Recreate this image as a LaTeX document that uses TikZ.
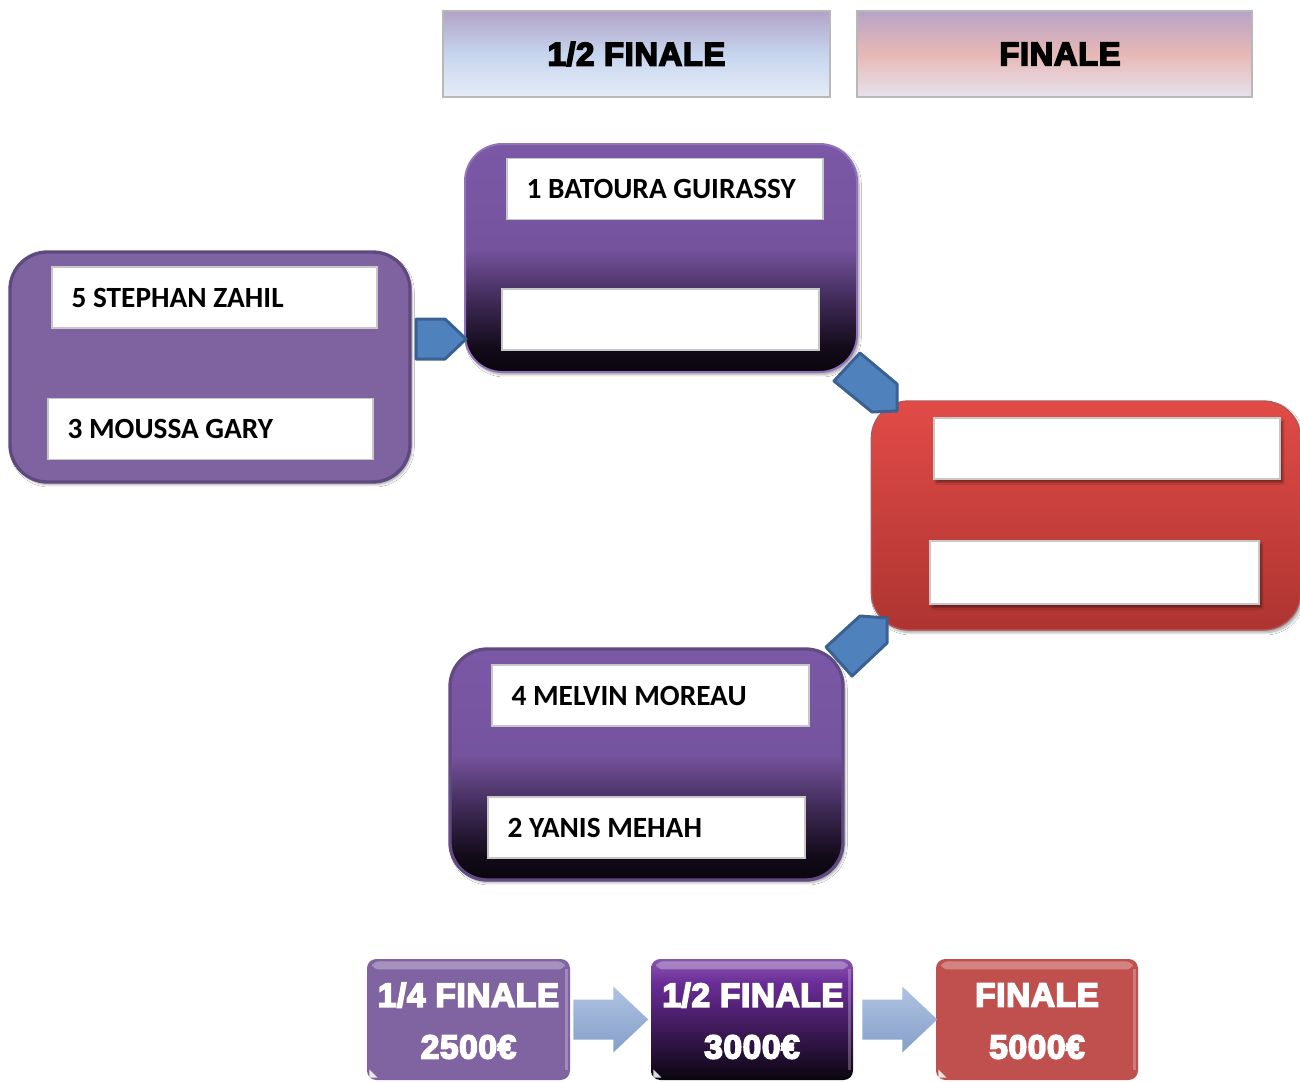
\documentclass[tikz,border=0pt]{standalone}
\usepackage{fontspec}
\newfontfamily\namefont{Carlito}
\newfontfamily\heavy[UprightFont={* Bold}, FakeBold=5, LetterSpace=2]{Liberation Sans}
\usetikzlibrary{shadows.blur,calc}
\definecolor{qpurple}{HTML}{7F63A1}
\definecolor{qpurpleline}{HTML}{5E4A7E}
\definecolor{semitop}{HTML}{7B58A6}
\definecolor{semimid}{HTML}{3C2852}
\definecolor{semibot}{HTML}{0A050E}
\definecolor{semiline}{HTML}{8F72B8}
\definecolor{redtop}{HTML}{E24B47}
\definecolor{redbot}{HTML}{AE3431}
\definecolor{redline}{HTML}{9C2E2B}
\definecolor{blueA}{HTML}{4F81BD}
\definecolor{blueAline}{HTML}{3A6192}
\definecolor{legA}{HTML}{8064A2}
\definecolor{legB}{HTML}{6A2C98}
\definecolor{legC}{HTML}{C0504D}
\definecolor{arrTop}{HTML}{AFC3E2}
\definecolor{arrBot}{HTML}{859FC9}
\definecolor{hAtop}{HTML}{B3A2C7}
\definecolor{hAmid}{HTML}{C6D5EE}
\definecolor{hAbot}{HTML}{E6ECF7}
\definecolor{hBtop}{HTML}{B7A3C6}
\definecolor{hBmid}{HTML}{E7B8B5}
\definecolor{hBbot}{HTML}{E6E2EE}
\pgfdeclareverticalshading{semishade}{100bp}{color(0bp)=(semibot); color(25bp)=(semibot); color(30bp)=(semibot!85!semimid); color(40bp)=(semimid); color(52bp)=(semitop!95!black); color(75bp)=(semitop); color(100bp)=(semitop)}
\pgfdeclareverticalshading{legbshade}{100bp}{color(0bp)=(semibot); color(25bp)=(semibot); color(40bp)=(legB!45!black); color(65bp)=(legB); color(75bp)=(legB!80!white); color(100bp)=(legB!80!white)}
\tikzset{
  bigbox/.style={rectangle, rounded corners=28pt, inner sep=0pt, blur shadow={shadow xshift=1.5pt, shadow yshift=-2pt, shadow blur steps=6, shadow opacity=35}},
  quarter/.style={bigbox, fill=qpurple, draw=qpurpleline, line width=2.5pt},
  semi/.style={bigbox, shading=semishade, draw=semiline, line width=1.5pt},
  semic/.style={bigbox, shading=semishade, draw=qpurpleline!90!semitop, line width=2.5pt},
  final/.style={bigbox, top color=redtop, bottom color=redbot, draw=redline!80, line width=1pt},
  slot/.style={rectangle, fill=white, draw=black!22, line width=1pt, inner sep=0pt, minimum height=45.75pt},
  slotshadow/.style={slot, blur shadow={shadow xshift=2pt, shadow yshift=-2.5pt, shadow blur steps=4, shadow opacity=45}},
  nametext/.style={anchor=west, font=\namefont\bfseries\fontsize{22pt}{24pt}\selectfont, inner sep=0pt},
  header/.style={rectangle, draw=black!28, line width=1.2pt, minimum height=64.5pt, inner sep=0pt},
  htext/.style={font=\heavy\fontsize{24.5pt}{27pt}\selectfont, text=black, inner sep=0pt},
  legbox/.style={rectangle, rounded corners=7pt, inner sep=0pt, minimum width=152pt, minimum height=90.75pt},
  ltext/.style={font=\heavy\fontsize{25pt}{27pt}\selectfont, text=white, inner sep=0pt},
  pent/.style={fill=blueA, draw=blueAline, line width=2.25pt, line join=round},
  legarrow/.style={top color=arrTop, bottom color=arrBot, draw=none},
}
\begin{document}
\begin{tikzpicture}[x=0.75pt,y=-0.75pt]
\useasboundingbox (0,0) rectangle (1300,1082);
\fill[white] (0,0) rectangle (1300,1082);

% headers
\node[header, top color=hAtop, bottom color=hAbot, middle color=hAmid, minimum width=290.25pt] (h1) at (636.5,54) {};
\node[htext] (h1t) at (h1.center) {1/2 FINALE};
\node[header, top color=hBtop, bottom color=hBbot, middle color=hBmid, minimum width=296.25pt] (h2) at (1054.5,54) {};
\node[htext] (h2t) at (1060,54) {FINALE};

% quarter final box
\node[quarter, minimum width=300pt, minimum height=172.5pt] (A) at (210,367) {};
\node[slot, minimum width=243.75pt] (a1) at (214.5,297.5) {};
\node[slot, minimum width=243.75pt] (a2) at (210.5,429) {};
\node[nametext] (a1t) at ([xshift=15pt]a1.west) {5 STEPHAN ZAHIL};
\node[nametext] (a2t) at ([xshift=15pt]a2.west) {3 MOUSSA GARY};

% semi final top
\node[semi, minimum width=294pt, minimum height=171pt] (B) at (661,258) {};
\node[slot, minimum width=237pt] (b1) at (665,189) {};
\node[slot, minimum width=237.75pt] (b2) at (660.5,319.5) {};
\node[nametext] (b1t) at ([xshift=15pt]b1.west) {1 BATOURA GUIRASSY};

% semi final bottom
\node[semic, minimum width=294.75pt, minimum height=173.25pt] (C) at (646.5,764.5) {};
\node[slot, minimum width=237.75pt] (c1) at (650.5,695.5) {};
\node[slot, minimum width=237.75pt] (c2) at (646.5,827.5) {};
\node[nametext] (c1t) at ([xshift=15pt]c1.west) {4 MELVIN MOREAU};
\node[nametext] (c2t) at ([xshift=15pt]c2.west) {2 YANIS MEHAH};

% final
\node[final, minimum width=322pt, minimum height=171.75pt] (D) at (1086,515.5) {};
\node[slotshadow, minimum width=259.5pt] (d1) at (1107,448.5) {};
\node[slotshadow, minimum width=246.75pt, minimum height=47.25pt] (d2) at (1094.5,572.5) {};

% pentagon arrows
\draw[pent] (416,319) -- (445,319) -- (466,339) -- (445,359) -- (416,359) -- cycle;
\draw[pent] (860,353) -- (897,384) -- (897,411) -- (872,412) -- (834,381) -- cycle;
\draw[pent] (860,616) -- (887,618) -- (887,643) -- (852,676) -- (826,647) -- cycle;

% legend
\node[legbox, fill=legA, minimum width=152.25pt] (l1) at (468.5,1019.5) {};
\node[legbox, shading=legbshade, minimum width=151.5pt] (l2) at (752,1019.5) {};
\node[legbox, fill=legC, minimum width=151.5pt] (l3) at (1037,1019.5) {};
\foreach \b in {l1,l2,l3}{
  \fill[white, opacity=0.3, rounded corners=5pt] ([xshift=4pt,yshift=-2pt]\b.north west) rectangle ([xshift=-4pt,yshift=-8pt]\b.north east);
  \fill[white, opacity=0.25] ([xshift=-4pt,yshift=-8pt]\b.north east) rectangle ([xshift=-2pt,yshift=8pt]\b.south east);
  \fill[white, opacity=0.85] ([xshift=2pt,yshift=2pt]\b.south west) -- ([xshift=8pt,yshift=2pt]\b.south west) -- ([xshift=2pt,yshift=8pt]\b.south west) -- cycle;
}
\node[ltext] (l1a) at (468.5,995) {1/4 FINALE};
\node[ltext] (l1b) at (468.5,1047) {2500€};
\node[ltext] (l2a) at (753,995) {1/2 FINALE};
\node[ltext] (l2b) at (752,1047) {3000€};
\node[ltext] (l3a) at (1037,995) {FINALE};
\node[ltext] (l3b) at (1037,1047) {5000€};

\path[legarrow] ([xshift=2.25pt,yshift=15pt]l1.east) -- ++(30pt,0) -- ++(0,9.75pt) -- ++(26.25pt,-24.75pt) -- ++(-26.25pt,-24.75pt) -- ++(0,9.75pt) -- ++(-30pt,0) -- cycle;
\path[legarrow] ([xshift=6.75pt,yshift=15pt]l2.east) -- ++(30pt,0) -- ++(0,9.75pt) -- ++(26.25pt,-24.75pt) -- ++(-26.25pt,-24.75pt) -- ++(0,9.75pt) -- ++(-30pt,0) -- cycle;
\end{tikzpicture}
\end{document}
